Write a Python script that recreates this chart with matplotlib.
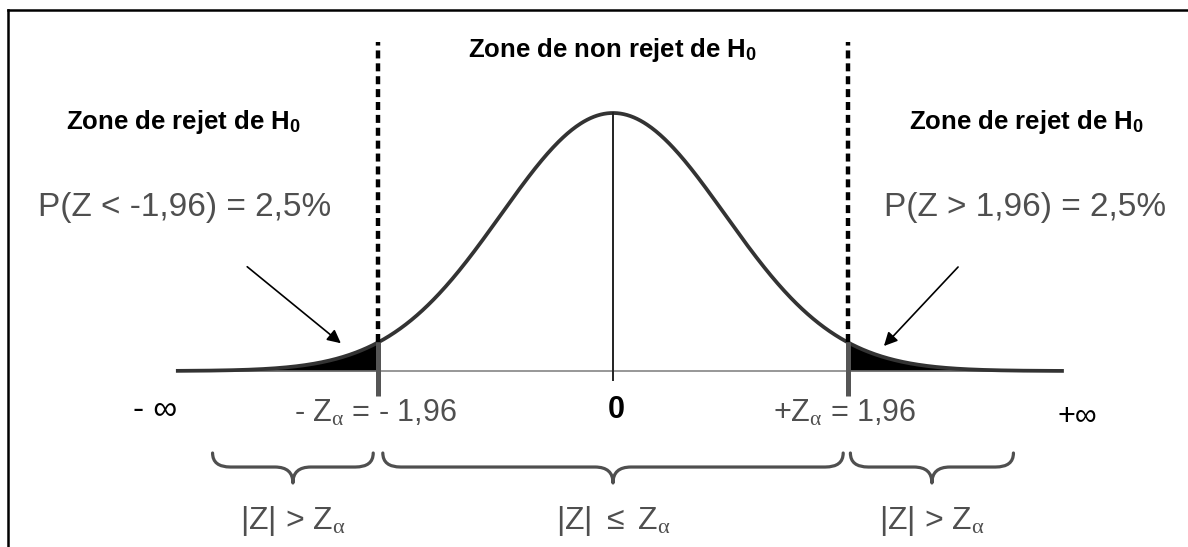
import numpy as np
import matplotlib.pyplot as plt
from matplotlib.path import Path
from matplotlib.patches import PathPatch

plt.rcParams['font.family'] = ['Liberation Sans', 'DejaVu Sans']
plt.rcParams['mathtext.fontset'] = 'custom'
plt.rcParams['mathtext.rm'] = 'Liberation Sans'
plt.rcParams['mathtext.it'] = 'Liberation Serif'
plt.rcParams['mathtext.bf'] = 'Liberation Sans:bold'

# --- data ---
z_crit = 1.96             # two-sided critical value, alpha = 5 %
tail_pct = 2.5            # probability in each tail
curve_sd = 0.934          # spread of the drawn bell (schematic)
z_min, z_max = -3.63, 3.745
brace_spans = [(-3.34, -2.00), (-1.92, 1.92), (1.98, 3.34)]
brace_labels = [r'|Z| > Z$_{\alpha}$', r'|Z| $\leq$ Z$_{\alpha}$', r'|Z| > Z$_{\alpha}$']

GRAY = '#4f4f4f'


def bell(z):
    return np.exp(-0.5 * (z / curve_sd) ** 2) / (curve_sd * np.sqrt(2 * np.pi))


def draw_brace(ax, x0, x1, y_top, y_mid, y_tip, r=0.15, color=GRAY, lw=2.3):
    xc = (x0 + x1) / 2
    verts = [(x0, y_top), (x0, y_mid), (x0 + r, y_mid),
             (xc - r, y_mid), (xc, y_mid), (xc, y_tip),
             (xc, y_mid), (xc + r, y_mid),
             (x1 - r, y_mid), (x1, y_mid), (x1, y_top)]
    codes = [Path.MOVETO, Path.CURVE3, Path.CURVE3,
             Path.LINETO, Path.CURVE3, Path.CURVE3,
             Path.CURVE3, Path.CURVE3,
             Path.LINETO, Path.CURVE3, Path.CURVE3]
    ax.add_patch(PathPatch(Path(verts, codes), fill=False, edgecolor=color,
                           lw=lw, capstyle='round', joinstyle='round'))


fig = plt.figure(figsize=(11.88, 5.47), dpi=100)
ax = fig.add_axes([0, 0, 1, 1])
ax.set_xlim(-5.113, 4.796)
ax.set_ylim(-0.2914, 0.6142)
ax.axis('off')

# frame (top and left edges only)
fig.add_artist(plt.Line2D([0.0067, 1.0], [0.9817, 0.9817], color='black', lw=1.8,
                          transform=fig.transFigure))
fig.add_artist(plt.Line2D([0.0067, 0.0067], [0.0, 0.9817], color='black', lw=1.8,
                          transform=fig.transFigure))

z = np.linspace(z_min, z_max, 800)
y = bell(z)

# shaded rejection tails
ax.fill_between(z, 0, y, where=z <= -z_crit, color='black', interpolate=True, lw=0)
ax.fill_between(z, 0, y, where=z >= z_crit, color='black', interpolate=True, lw=0)

# axis and curve
ax.plot([z_min, z_max], [0, 0], color='#7a7a7a', lw=1.1)
ax.plot(z, y, color='#333333', lw=2.7)
ax.plot([0, 0], [-0.015, bell(0)], color='#222222', lw=1.4)

# critical values
for zc in (-z_crit, z_crit):
    ax.plot([zc, zc], [-0.0414, bell(zc)], color='#555555', lw=3.6, solid_capstyle='butt')
    ax.plot([zc, zc], [bell(zc), 0.5447], color='black', lw=3.2, dashes=(1.8, 1.1))

# zone titles
title_kw = dict(ha='center', va='center', fontsize=18.5, fontweight='bold')
ax.text(0, 0.5315, r'Zone de non rejet de H$_{\mathbf{0}}$', **title_kw)
ax.text(-3.586, 0.412, r'Zone de rejet de H$_{\mathbf{0}}$', **title_kw)
ax.text(3.45, 0.412, r'Zone de rejet de H$_{\mathbf{0}}$', **title_kw)

# tail probabilities
pct = str(tail_pct).replace('.', ',')
ax.text(-3.57, 0.27, 'P(Z < -1,96) = %s%%' % pct, ha='center', va='center',
        fontsize=24, color=GRAY)
ax.text(3.436, 0.27, 'P(Z > 1,96) = %s%%' % pct, ha='center', va='center',
        fontsize=24, color=GRAY)
ax.annotate('', xy=(-2.252, 0.043), xytext=(-3.069, 0.1755),
            arrowprops=dict(arrowstyle='-|>', color='black', lw=1.2, mutation_scale=20))
ax.annotate('', xy=(2.244, 0.038), xytext=(2.894, 0.1755),
            arrowprops=dict(arrowstyle='-|>', color='black', lw=1.2, mutation_scale=20))

# axis labels
ax.text(-3.82, -0.0646, '- \u221e', ha='center', va='center', fontsize=24)
ax.text(0.03, -0.0646, '0', ha='center', va='center', fontsize=22, fontweight='bold')
ax.text(3.87, -0.076, '+\u221e', ha='center', va='center', fontsize=22)
ax.text(-1.985, -0.0695, r'- Z$_{\alpha}$ = - 1,96', ha='center', va='center',
        fontsize=22, color=GRAY)
ax.text(1.935, -0.0695, r'+Z$_{\alpha}$ = 1,96', ha='center', va='center',
        fontsize=22, color=GRAY)

# braces and region labels
for (x0, x1), lab in zip(brace_spans, brace_labels):
    draw_brace(ax, x0, x1, -0.1358, -0.159, -0.1854)
    ax.text((x0 + x1) / 2, -0.248, lab, ha='center', va='center',
            fontsize=23, color=GRAY)

fig.savefig('out.png', dpi=100)
